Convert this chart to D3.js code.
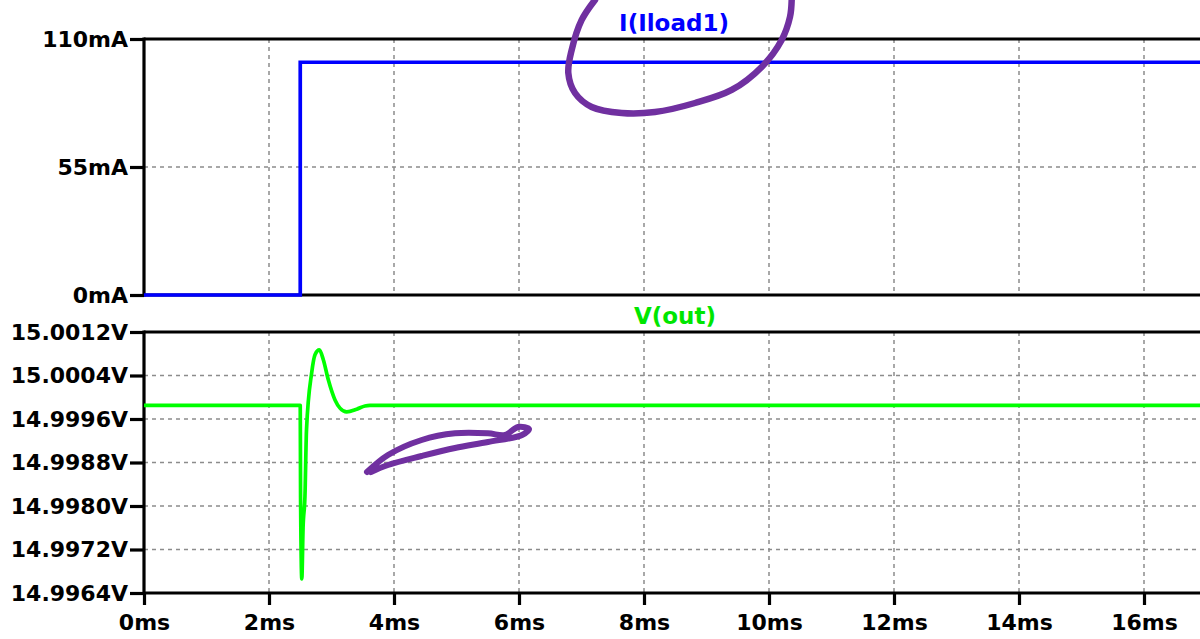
<!DOCTYPE html>
<html>
<head>
<meta charset="utf-8">
<script src="https://cdn.jsdelivr.net/npm/d3@7"></script>
<style>
  html, body { margin: 0; padding: 0; background: #ffffff; }
  svg { display: block; }
  text { font-family: "DejaVu Sans", Verdana, sans-serif; font-weight: bold; }
</style>
</head>
<body>
<svg id="chart" width="1200" height="639"></svg>
<script>
// ---- Trace data (time in ms) ----
const timeTicks = [0, 2, 4, 6, 8, 10, 12, 14, 16];
const currentTicks = [0, 55, 110];
const voltageTicks = [14.9964, 14.9972, 14.9980, 14.9988, 14.9996, 15.0004, 15.0012];

// I(Iload1): load current step at 2.5 ms
const iTime = [0, 2.5, 2.5, 17];
const iLoad = [0, 0, 100, 100];          // mA

// V(out): regulator output response to the load step
const vTime = [0, 2.50, 2.505, 2.525, 2.545, 2.575, 2.600, 2.683, 2.736, 2.805, 2.869, 2.949, 3.056, 3.136, 3.243, 3.403, 3.536, 3.616, 17];
const vOut  = [14.99985, 14.99985, 14.99820, 14.99666, 14.99760, 14.99817, 14.99940, 15.00045, 15.00078, 15.00087,
               15.00069, 15.00032, 14.99995, 14.99980, 14.99973, 14.99978, 14.99984, 14.99985, 14.99985];

// Hand-drawn markup (ms, mA) around the current trace label
const loopTime = [7.216, 7.003, 6.843, 6.789, 6.896, 7.163, 7.643, 8.176, 8.816, 9.403, 9.883, 10.203, 10.336, 10.363];
const loopAmps = [126.8, 118.2, 105.3, 95.4, 86.8, 80.8, 78.2, 78.6, 82.5, 88.1, 98.0, 109.6, 119.5, 126.8];

// Hand-drawn markup (ms, V) under the voltage recovery
const markTime = [3.568, 3.904, 4.443, 4.976, 5.504, 5.776, 5.984, 6.160, 6.048, 5.504, 4.976, 4.443, 3.904, 3.632];
const markVolt = [14.998625, 14.998938, 14.999214, 14.999337, 14.999337, 14.999306, 14.999453, 14.999416,
                  14.999306, 14.999177, 14.999067, 14.998920, 14.998754, 14.998625];

const svg = d3.select("#chart");

// ---- Layout ----
const left = 144;
const pxPerMs = 62.5;
const topPane = { top: 39, bottom: 295 };
const botPane = { top: 332, bottom: 593 };

const x = d3.scaleLinear().domain([0, 17]).range([left, left + 17 * pxPerMs]);
const yI = d3.scaleLinear().domain([0, 110]).range([topPane.bottom, topPane.top]);
const yV = d3.scaleLinear().domain([14.9964, 15.0012]).range([botPane.bottom, botPane.top]);

const gridColor = "#8c8c8c";
const axisW = 3.2;
const traceW = 3.7;

// ---- Grids ----
function vGrid(pane) {
  svg.append("g").selectAll("line")
    .data(timeTicks.filter(t => t > 0))
    .join("line")
    .attr("x1", d => x(d)).attr("x2", d => x(d))
    .attr("y1", pane.top).attr("y2", pane.bottom)
    .attr("stroke", gridColor).attr("stroke-width", 1.5)
    .attr("stroke-dasharray", "4,4");
}
function hGrid(values, scale) {
  svg.append("g").selectAll("line")
    .data(values)
    .join("line")
    .attr("x1", left).attr("x2", 1200)
    .attr("y1", d => scale(d)).attr("y2", d => scale(d))
    .attr("stroke", gridColor).attr("stroke-width", 1.5)
    .attr("stroke-dasharray", "4,4");
}
vGrid(topPane);
vGrid(botPane);
hGrid([55], yI);
hGrid(voltageTicks.slice(1, -1), yV);

// ---- Pane frames ----
function frame(pane) {
  const g = svg.append("g").attr("stroke", "#000").attr("stroke-width", axisW);
  g.append("line").attr("x1", left).attr("x2", 1200).attr("y1", pane.top).attr("y2", pane.top);
  g.append("line").attr("x1", left).attr("x2", 1200).attr("y1", pane.bottom).attr("y2", pane.bottom);
  g.append("line").attr("x1", left).attr("x2", left).attr("y1", pane.top - axisW / 2).attr("y2", pane.bottom + axisW / 2);
}
frame(topPane);
frame(botPane);

// ---- Axes ----
function styleAxis(g) {
  g.select(".domain").remove();
  g.selectAll(".tick line").attr("stroke", "#000").attr("stroke-width", axisW);
  g.selectAll(".tick text")
    .attr("fill", "#000")
    .style("font-size", "22px")
    .style("font-family", "'DejaVu Sans', Verdana, sans-serif")
    .style("font-weight", "bold");
}

svg.append("g")
  .attr("transform", `translate(${left},0)`)
  .call(d3.axisLeft(yI).tickValues(currentTicks).tickSize(14).tickPadding(2)
        .tickFormat(d => d + "mA"))
  .call(styleAxis);

svg.append("g")
  .attr("transform", `translate(${left},0)`)
  .call(d3.axisLeft(yV).tickValues(voltageTicks).tickSize(14).tickPadding(2)
        .tickFormat(d => d3.format(".4f")(d) + "V"))
  .call(styleAxis);

svg.append("g")
  .attr("transform", `translate(0,${botPane.bottom})`)
  .call(d3.axisBottom(x).tickValues(timeTicks).tickSize(12).tickPadding(9)
        .tickFormat(d => d + "ms"))
  .call(styleAxis)
  .call(g => g.selectAll(".tick text").attr("dy", "0.71em"));

// ---- Traces ----
const iPts = iTime.map((t, i) => [t, iLoad[i]]);
const vPts = vTime.map((t, i) => [t, vOut[i]]);

svg.append("path")
  .attr("d", d3.line().x(d => x(d[0])).y(d => yI(d[1]))(iPts))
  .attr("fill", "none").attr("stroke", "#0000ff").attr("stroke-width", traceW)
  .attr("stroke-linejoin", "miter");

svg.append("path")
  .attr("d", d3.line().x(d => x(d[0])).y(d => yV(d[1])).curve(d3.curveMonotoneX)(vPts))
  .attr("fill", "none").attr("stroke", "#00ff00").attr("stroke-width", traceW)
  .attr("stroke-linejoin", "round");

// ---- Trace labels ----
svg.append("text")
  .attr("x", 674).attr("y", 31)
  .attr("text-anchor", "middle")
  .attr("fill", "#0000ff")
  .style("font-size", "23px")
  .text("I(Iload1)");

svg.append("text")
  .attr("x", 675).attr("y", 324)
  .attr("text-anchor", "middle")
  .attr("fill", "#00e600")
  .style("font-size", "23px")
  .text("V(out)");

// ---- Hand-drawn markup ----
const ink = "#7030a0";
svg.append("path")
  .attr("d", d3.line().x(d => x(d[0])).y(d => yI(d[1])).curve(d3.curveCatmullRom)(
    loopTime.map((t, i) => [t, loopAmps[i]])))
  .attr("fill", "none").attr("stroke", ink).attr("stroke-width", 6.5)
  .attr("stroke-linecap", "round").attr("stroke-linejoin", "round");

svg.append("path")
  .attr("d", d3.line().x(d => x(d[0])).y(d => yV(d[1])).curve(d3.curveCatmullRom)(
    markTime.map((t, i) => [t, markVolt[i]])))
  .attr("fill", "none").attr("stroke", ink).attr("stroke-width", 6)
  .attr("stroke-linecap", "round").attr("stroke-linejoin", "round");
</script>
</body>
</html>
